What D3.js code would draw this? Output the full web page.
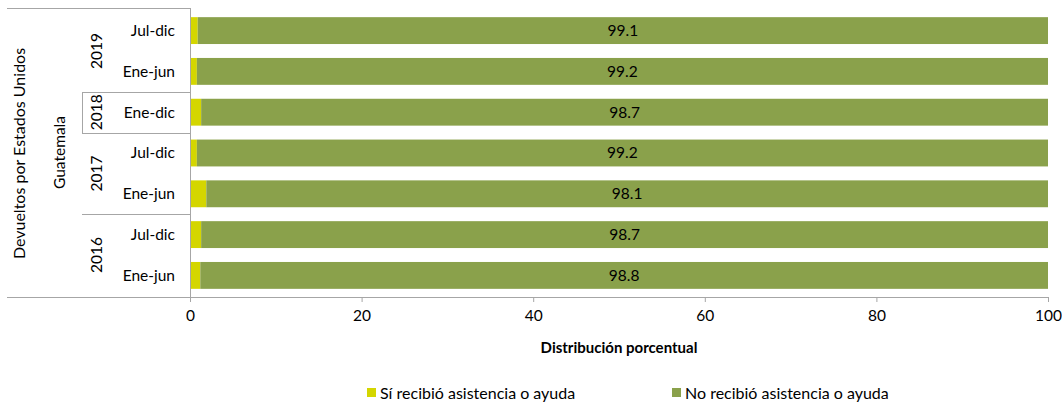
<!DOCTYPE html>
<html><head><meta charset="utf-8">
<script src="https://cdn.jsdelivr.net/npm/d3@7"></script>
<style>body{margin:0;background:#fff;} svg{display:block;font-family:Lato,"Open Sans",sans-serif;}</style>
</head><body><svg id="c" width="1062" height="402"></svg>
<script>
const periods = ["Jul-dic","Ene-jun","Ene-dic","Jul-dic","Ene-jun","Jul-dic","Ene-jun"];
const years = ["2019","2019","2018","2017","2017","2016","2016"];
const siRecibio = [0.9,0.8,1.3,0.8,1.9,1.3,1.2];
const noRecibio = [99.1,99.2,98.7,99.2,98.1,98.7,98.8];
const xTicks = [0,20,40,60,80,100];
const seriesNames = ["Sí recibió asistencia o ayuda","No recibió asistencia o ayuda"];
const outerLabels = ["Guatemala","Devueltos por Estados Unidos"];

(function(){
const colors = ["#d4d600","#8aa14b"];
const grid = "#a6a6a6";
const fs = 15.5;
const svg = d3.select("#c");
const pL = 190, pR = 1048, pT = 8, pB = 297;
const idx = periods.map((d,i)=>i);
const x = d3.scaleLinear().domain([0,100]).range([pL,pR]);
const y = d3.scaleBand().domain(idx).range([pT+1,pB]).paddingInner(0.3415).paddingOuter(0.2);

const rows = idx.map(i=>({i, si:siRecibio[i], no:noRecibio[i]}));
svg.append("g").selectAll("rect").data(rows).join("rect")
  .attr("x",d=>x(0)).attr("y",d=>y(d.i)).attr("width",d=>x(d.si)-x(0)).attr("height",y.bandwidth()).attr("fill",colors[0]);
svg.append("g").selectAll("rect").data(rows).join("rect")
  .attr("x",d=>x(d.si)).attr("y",d=>y(d.i)).attr("width",d=>x(d.si+d.no)-x(d.si)).attr("height",y.bandwidth()).attr("fill",colors[1]);
svg.append("g").selectAll("text").data(rows).join("text")
  .attr("x",d=>x(d.si+d.no/2)).attr("y",d=>y(d.i)+y.bandwidth()/2).attr("dy","0.35em")
  .attr("text-anchor","middle").attr("font-size",fs).attr("fill","#000").text(d=>d.no.toFixed(1));

const xa = svg.append("g").attr("transform",`translate(0,${pB})`)
  .call(d3.axisBottom(x).tickValues(xTicks).tickSize(5).tickPadding(8).tickFormat(d3.format("d")));
xa.select(".domain").attr("stroke",grid).attr("d",`M${pL},0.5H${pR}`);
xa.selectAll(".tick line").attr("stroke",grid);
xa.selectAll(".tick text").attr("font-size",fs).attr("fill","#000").attr("font-family","Lato,'Open Sans',sans-serif");
svg.append("line").attr("x1",pL+0.5).attr("x2",pL+0.5).attr("y1",pT).attr("y2",pB+5).attr("stroke",grid);

svg.append("g").selectAll("text").data(idx).join("text")
  .attr("x",175).attr("y",i=>y(i)+y.bandwidth()/2).attr("dy","0.35em")
  .attr("text-anchor","end").attr("font-size",fs).text(i=>periods[i]);

const yearGroups = d3.groups(idx, i=>years[i]);
const yStep = y.step();
const gap = (yStep - y.bandwidth())/2;
yearGroups.forEach(([yr, members])=>{
  const y0 = y(members[0]) - gap;
  const y1 = y(members[members.length-1]) + y.bandwidth() + gap;
  svg.append("text").attr("transform",`translate(97,${(y0+y1)/2}) rotate(-90)`)
    .attr("text-anchor","middle").attr("dy","0.35em").attr("font-size",fs).text(yr);
});
const seps = [];
for (let k=1;k<yearGroups.length;k++){
  seps.push(y(yearGroups[k][1][0]) - gap);
}
svg.append("g").selectAll("line").data(seps).join("line")
  .attr("x1",82).attr("x2",pL).attr("y1",d=>Math.round(d)+0.5).attr("y2",d=>Math.round(d)+0.5).attr("stroke",grid);
svg.append("line").attr("x1",82.5).attr("x2",82.5).attr("y1",Math.round(seps[0])+0.5).attr("y2",Math.round(seps[1])+0.5).attr("stroke",grid);
[pT,pB].forEach(v=>svg.append("line").attr("x1",7).attr("x2",pL).attr("y1",v+0.5).attr("y2",v+0.5).attr("stroke",grid));

svg.append("text").attr("transform",`translate(60,${(pT+pB)/2}) rotate(-90)`)
  .attr("text-anchor","middle").attr("dy","0.35em").attr("font-size",fs).text(outerLabels[0]);
svg.append("text").attr("transform",`translate(19,${(pT+pB)/2+1}) rotate(-90)`)
  .attr("text-anchor","middle").attr("dy","0.35em").attr("font-size",16).text(outerLabels[1]);

svg.append("text").attr("x",(pL+pR)/2).attr("y",348).attr("dy","0.35em")
  .attr("text-anchor","middle").attr("font-size",15).attr("font-weight","bold").text("Distribución porcentual");

const legX = [367,672];
seriesNames.forEach((n,k)=>{
  svg.append("rect").attr("x",legX[k]).attr("y",388).attr("width",9).attr("height",9).attr("fill",colors[k]);
  svg.append("text").attr("x",legX[k]+13).attr("y",393).attr("dy","0.35em").attr("font-size",16).text(n);
});
})();
</script></body></html>
